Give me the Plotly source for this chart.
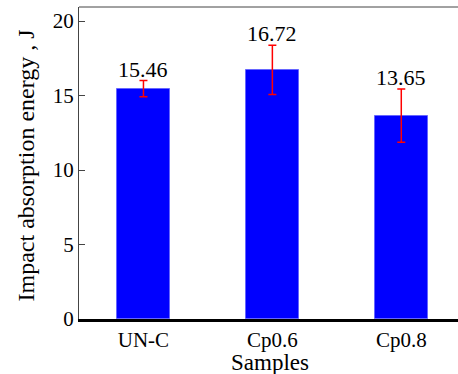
import plotly.graph_objects as go

categories = ["UN-C", "Cp0.6", "Cp0.8"]
values = [15.46, 16.72, 13.65]
errors = [0.54, 1.65, 1.78]
labels = ["15.46", "16.72", "13.65"]
y_ticks = [0, 5, 10, 15, 20]

FONT = "Liberation Serif"

fig = go.Figure()
fig.add_trace(go.Bar(
    x=categories, y=values, width=0.41,
    marker=dict(color="#0000FF", line=dict(color="#6666FF", width=1)),
    error_y=dict(type="data", array=errors, visible=True, color="#FF0000",
                 thickness=1.5, width=4),
    showlegend=False,
))

for c, v, e, t in zip(categories, values, errors, labels):
    fig.add_annotation(x=c, y=v + e, text=t, showarrow=False, yanchor="bottom",
                       yshift=-3, font=dict(family=FONT, size=22, color="black"))

fig.add_shape(type="line", xref="paper", yref="paper", x0=0, x1=1, y0=1, y1=1,
              line=dict(color="#444444", width=1))

# axis titles placed as annotations for precise positioning
fig.add_annotation(xref="paper", yref="paper", x=(270 - 79) / 379, y=-0.138,
                   text="Samples", showarrow=False, xanchor="center", yanchor="middle",
                   font=dict(family=FONT, size=23, color="black"))
fig.add_annotation(xref="paper", yref="paper", x=-(79 - 25) / 379, y=(319 - 165.5) / 312,
                   text="Impact absorption energy , J", showarrow=False, textangle=-90,
                   xanchor="center", yanchor="middle",
                   font=dict(family=FONT, size=24, color="black"))

fig.update_layout(
    width=458, height=374,
    margin=dict(l=79, r=0, t=7, b=55),
    plot_bgcolor="white", paper_bgcolor="white",
    font=dict(family=FONT, size=21, color="black"),
    bargap=0,
)
fig.update_xaxes(
    range=[-0.5, 2.44], showgrid=False, zeroline=False,
    showline=True, linecolor="black", linewidth=2.5,
    ticks="", tickfont=dict(family=FONT, size=21),
)
fig.update_yaxes(
    range=[0, 20.94], tickvals=y_ticks, showgrid=False, zeroline=False,
    showline=True, linecolor="#444444", linewidth=1,
    ticks="inside", ticklen=6, tickcolor="#444444",
    tickfont=dict(family=FONT, size=21),
)

fig.write_html("out.html")
